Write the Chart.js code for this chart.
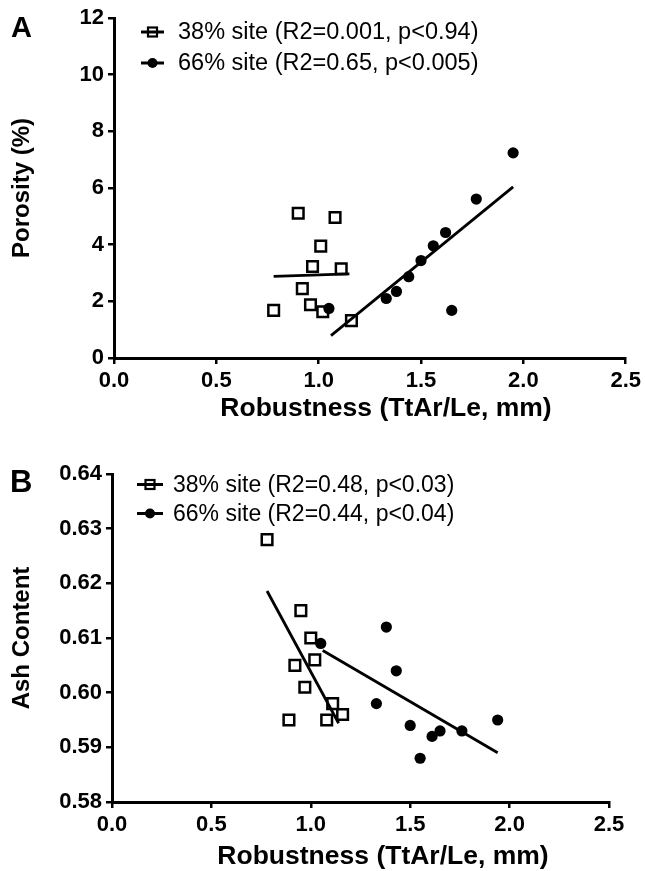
<!DOCTYPE html>
<html lang="en">
<head>
  <meta charset="UTF-8" />
  <title>Porosity and Ash Content vs Robustness</title>
  <script src="https://cdn.jsdelivr.net/npm/chart.js"></script>
  <style>
    body {
      margin: 0;
      background: #fff;
      overflow: hidden;
    }
    .panel {
      position: absolute;
      left: 0;
    }
    #panelA { top: 0; }
    #panelB { top: 435px; }
  </style>
</head>
<body>
  <div class="panel" id="panelA"><canvas id="chartA" width="645" height="435"></canvas></div>
  <div class="panel" id="panelB"><canvas id="chartB" width="645" height="445"></canvas></div>

  <script>
    // Shared x axis: robustness (TtAr/Le, mm)
    const xTicks = [0, 0.5, 1.0, 1.5, 2.0, 2.5];

    // Panel A: porosity (%)
    const yTicksA = [0, 2, 4, 6, 8, 10, 12];
    const robA38 = [0.90, 1.08, 1.01, 0.97, 1.11, 0.92, 0.78, 0.96, 1.02, 1.16];
    const porA38 = [5.11, 4.96, 3.95, 3.23, 3.15, 2.45, 1.68, 1.88, 1.63, 1.32];
    const robA66 = [1.05, 1.33, 1.38, 1.44, 1.50, 1.56, 1.62, 1.65, 1.77, 1.95];
    const porA66 = [1.75, 2.10, 2.35, 2.87, 3.44, 3.96, 4.43, 1.68, 5.61, 7.24];
    // regression lines (end points)
    const fitA38X = [0.78, 1.15];
    const fitA38Y = [2.88, 2.97];
    const fitA66X = [1.06, 1.95];
    const fitA66Y = [0.79, 6.04];
    const legendA = ['38% site (R2=0.001, p<0.94)', '66% site (R2=0.65, p<0.005)'];

    // Panel B: ash content
    const yTicksB = [0.58, 0.59, 0.60, 0.61, 0.62, 0.63, 0.64];
    const robB38 = [0.78, 0.95, 1.00, 1.02, 0.92, 0.97, 1.11, 1.16, 0.89, 1.08];
    const ashB38 = [0.628, 0.615, 0.610, 0.606, 0.605, 0.601, 0.598, 0.596, 0.595, 0.595];
    const robB66 = [1.05, 1.38, 1.43, 1.33, 1.50, 1.61, 1.65, 1.55, 1.76, 1.94];
    const ashB66 = [0.609, 0.612, 0.604, 0.598, 0.594, 0.592, 0.593, 0.588, 0.593, 0.595];
    const fitB38X = [0.78, 1.14];
    const fitB38Y = [0.6186, 0.5944];
    const fitB66X = [1.06, 1.94];
    const fitB66Y = [0.6077, 0.5890];
    const legendB = ['38% site (R2=0.48, p<0.03)', '66% site (R2=0.44, p<0.04)'];

    const FONT = "'Liberation Sans', Arial, Helvetica, sans-serif";
    const xTitle = 'Robustness (TtAr/Le, mm)';

    const pts = (xs, ys) => xs.map((x, i) => ({ x, y: ys[i] }));

    // panel letter, x title and GraphPad-style legend (line with marker)
    const decor = {
      id: 'decor',
      afterDraw(chart, args, o) {
        const ctx = chart.ctx;
        ctx.save();
        ctx.fillStyle = '#000';
        ctx.textBaseline = 'alphabetic';
        ctx.font = `bold ${o.tagSize}px ${FONT}`;
        ctx.fillText(o.tag, o.tagX, o.tagY);

        // x axis title sits a bit right of the plot centre in the original
        ctx.textAlign = 'center';
        ctx.textBaseline = 'middle';
        ctx.font = `bold 26.5px ${FONT}`;
        ctx.fillText(xTitle, o.titleX, o.titleY);

        ctx.textAlign = 'left';
        ctx.font = `${o.fontSize}px ${FONT}`;
        o.labels.forEach((txt, i) => {
          const y = o.y + i * o.gap;
          const cx = (o.x0 + o.x1) / 2;
          ctx.strokeStyle = '#000';
          ctx.lineWidth = 3;
          ctx.beginPath();
          ctx.moveTo(o.x0, y);
          ctx.lineTo(o.x1, y);
          ctx.stroke();
          if (i === 0) {
            ctx.lineWidth = 2.2;
            ctx.strokeRect(cx - 4.5, y - 4.5, 9, 9);
          } else {
            ctx.beginPath();
            ctx.arc(cx, y, 5, 0, Math.PI * 2);
            ctx.fill();
          }
          ctx.fillText(txt, o.textX, y + 1);
        });
        ctx.restore();
      }
    };

    function axis(min, max, ticks, digits, fit, title) {
      return {
        type: 'linear',
        min, max,
        afterBuildTicks: s => { s.ticks = ticks.map(v => ({ value: v })); },
        afterFit: s => {
          if (s.isHorizontal()) s.height = fit; else s.width = fit;
        },
        ticks: {
          callback: v => v.toFixed(digits),
          font: { family: FONT, size: 22, weight: 'bold' },
          color: '#000',
          padding: 4,
          maxRotation: 0,
          autoSkip: false
        },
        grid: {
          display: true,
          drawOnChartArea: false,
          drawTicks: true,
          tickLength: 6,
          color: '#000',
          lineWidth: 2.5
        },
        border: { display: true, color: '#000', width: 3 },
        title: {
          display: !!title,
          text: title || '',
          color: '#000',
          font: { family: FONT, size: 24, weight: 'bold' },
          padding: { top: 8, bottom: 0 }
        }
      };
    }

    function datasets(x38, y38, x66, y66, f38x, f38y, f66x, f66y) {
      const fit = (xs, ys) => ({
        data: pts(xs, ys),
        showLine: true,
        borderColor: '#000',
        borderWidth: 2.8,
        pointRadius: 0
      });
      return [
        fit(f38x, f38y),
        fit(f66x, f66y),
        {
          data: pts(x38, y38),
          pointStyle: 'rect',
          pointRadius: 7.5,
          borderWidth: 2.5,
          borderColor: '#000',
          backgroundColor: 'rgba(0,0,0,0)'
        },
        {
          data: pts(x66, y66),
          pointStyle: 'circle',
          pointRadius: 5.6,
          borderWidth: 0,
          backgroundColor: '#000'
        }
      ];
    }

    new Chart(document.getElementById('chartA'), {
      type: 'scatter',
      data: { datasets: datasets(robA38, porA38, robA66, porA66, fitA38X, fitA38Y, fitA66X, fitA66Y) },
      plugins: [decor],
      options: {
        responsive: false,
        animation: false,
        layout: { padding: { top: 18, right: 19, left: 0, bottom: 0 } },
        scales: {
          x: axis(0, 2.5, xTicks, 1, 77),
          y: axis(0, 12, yTicksA, 0, 114, 'Porosity (%)')
        },
        plugins: {
          legend: { display: false },
          tooltip: { enabled: false },
          decor: {
            tag: 'A', tagSize: 29, tagX: 11, tagY: 37,
            titleX: 386, titleY: 409,
            labels: legendA, fontSize: 23.5,
            x0: 141, x1: 164, textX: 178, y: 32, gap: 31
          }
        }
      }
    });

    new Chart(document.getElementById('chartB'), {
      type: 'scatter',
      data: { datasets: datasets(robB38, ashB38, robB66, ashB66, fitB38X, fitB38Y, fitB66X, fitB66Y) },
      plugins: [decor],
      options: {
        responsive: false,
        animation: false,
        layout: { padding: { top: 39, right: 36, left: 0, bottom: 0 } },
        scales: {
          x: axis(0, 2.5, xTicks, 1, 78),
          y: axis(0.58, 0.64, yTicksB, 2, 112, 'Ash Content')
        },
        plugins: {
          legend: { display: false },
          tooltip: { enabled: false },
          decor: {
            tag: 'B', tagSize: 31, tagX: 10, tagY: 57,
            titleX: 383, titleY: 422,
            labels: legendB, fontSize: 23,
            x0: 137, x1: 163, textX: 173, y: 49.5, gap: 29
          }
        }
      }
    });
  </script>
</body>
</html>
